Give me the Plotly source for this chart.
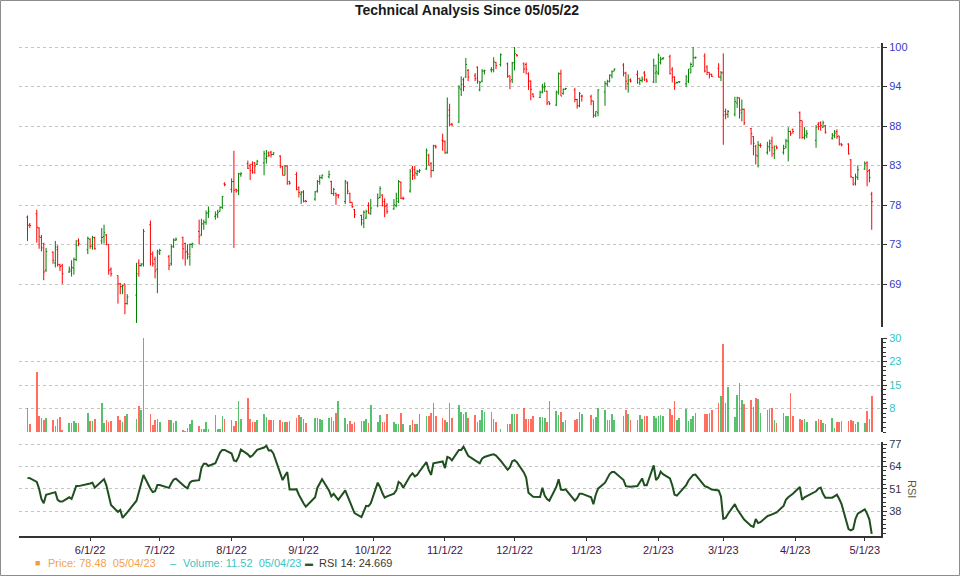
import math
import pandas as pd
import plotly.graph_objects as go

# ---------------- data ----------------
holidays = ['2022-05-30', '2022-06-20', '2022-07-04', '2022-09-05', '2022-11-24',
            '2022-12-26', '2023-01-02', '2023-01-16', '2023-02-20', '2023-04-07']
dates = [d for d in pd.bdate_range('2022-05-05', '2023-05-04')
         if d.strftime('%Y-%m-%d') not in holidays]

open_ = [
    76.6, 75.7, 77.0, 75.3, 74.2, 73.5, 70.5, 72.5, 71.3, 72.8, 71.1, 71.0, 70.3, 70.4, 70.7, 71.7, 73.8, 72.8,
    74.0, 73.2, 74.2, 73.8, 74.3, 74.5, 73.4, 70.6, 69.9, 69.0, 68.7, 69.0, 66.9, 67.8, 71.3, 71.0, 71.2, 75.7, 72.3, 71.7, 70.6,
    72.4, 72.0, 71.2, 73.2, 73.9, 74.2, 73.5, 72.6, 72.0, 73.4, 74.9, 74.5, 75.8, 76.0, 77.1, 76.7, 76.9, 77.3, 77.8, 80.7,
    80.0, 81.0, 80.0, 79.9, 81.9, 83.3, 83.0, 83.2, 83.4, 83.2, 83.4, 84.0, 84.7, 84.8, 84.5, 84.3, 82.9, 81.8, 83.0, 81.0, 81.9, 80.2, 79.4,
    79.7, 78.6, 78.8, 79.8, 81.0, 81.5, 81.6, 81.0, 79.5, 79.5, 79.3, 78.5, 80.8, 79.5, 78.4, 77.5, 76.8, 75.9, 76.5, 78.0, 77.0,
    78.0, 79.0, 79.3, 78.5, 78.0, 77.6, 78.0, 78.5, 80.9, 78.9, 79.8, 82.7, 82.5, 82.0, 82.3, 82.6, 84.4, 83.3, 82.4, 85.6, 86.4,
    86.2, 84.8, 90.6, 88.6, 88.9, 93.6, 95.0, 95.4, 96.4, 95.6, 96.9, 93.5, 94.8, 96.3, 96.5, 96.5, 97.6, 97.3, 97.4, 95.6, 95.0,
    97.6, 98.8, 97.4, 97.3, 95.9, 94.8, 92.9, 92.4, 93.2, 93.9, 93.3, 91.8, 91.3, 93.1, 95.9, 93.0, 93.6, 93.5, 92.1, 91.2, 92.6,
    92.5, 91.9, 89.9, 90.2, 93.2, 94.4, 94.8, 95.6, 96.3, 97.2, 96.0, 94.4, 95.0, 95.8, 94.6, 94.9, 96.0, 95.0, 94.7, 96.0,
    96.0, 97.6, 98.2, 98.5, 96.5, 95.4, 94.6, 94.7, 94.4, 94.8, 96.0, 97.0, 98.3, 98.6, 96.9, 96.1, 95.8, 96.7, 95.4,
    96.0, 90.4, 90.0, 90.0, 91.6, 92.3, 90.2, 90.7, 88.0, 86.9, 85.6, 84.3, 85.7, 84.8, 85.5, 86.3, 84.6, 85.6, 84.8, 85.5, 86.3, 87.6, 87.9,
    90.2, 89.1, 86.8, 87.0, 86.4, 88.6, 88.8, 88.2, 88.4, 86.7, 87.0, 87.6, 87.0, 85.9, 85.9, 83.8, 81.5, 80.8, 81.5,
    82.6, 83.4, 82.4, 79.4,
]
high = [
    76.8, 75.9, 77.5, 75.4, 74.5, 73.6, 73.0, 72.6, 73.8, 73.3, 71.2, 71.2, 70.9, 71.6, 71.9, 73.9, 74.1, 74.3,
    74.1, 74.4, 74.3, 75.3, 75.7, 74.6, 73.4, 70.8, 69.9, 69.1, 68.9, 69.0, 67.9, 71.3, 71.7, 71.3, 75.2, 76.2, 72.6, 72.0, 72.8,
    72.9, 72.2, 73.4, 74.1, 74.2, 74.3, 73.6, 73.4, 73.5, 73.6, 76.3, 76.4, 76.3, 77.4, 77.9, 77.3, 77.5, 77.9, 79.2, 80.9,
    81.4, 85.0, 80.1, 82.1, 82.2, 83.7, 83.3, 83.6, 83.5, 83.8, 85.0, 85.1, 84.9, 85.0, 84.8, 84.4, 83.0, 83.1, 83.1, 81.1, 82.2, 80.4, 79.8,
    79.9, 78.7, 79.8, 81.2, 81.8, 81.9, 82.4, 81.1, 80.2, 79.6, 79.4, 81.2, 81.0, 79.6, 78.4, 77.6, 76.9, 77.4, 77.5, 78.4, 78.8,
    79.5, 80.4, 79.4, 78.9, 78.3, 78.8, 79.6, 81.2, 81.0, 79.1, 82.6, 83.0, 83.0, 82.5, 82.6, 85.3, 84.6, 83.5, 85.8, 85.8, 87.3,
    86.4, 92.4, 91.5, 88.8, 94.2, 95.5, 95.3, 98.3, 96.6, 96.0, 97.0, 94.8, 96.6, 96.5, 96.9, 98.4, 97.7, 99.0, 97.6, 95.6, 97.7,
    100.0, 98.9, 97.6, 97.6, 96.1, 94.9, 93.0, 93.4, 94.4, 94.6, 93.4, 91.8, 93.4, 96.1, 96.5, 93.7, 93.8, 93.8, 92.2, 93.2, 92.8,
    92.8, 91.9, 90.4, 93.6, 94.8, 95.0, 95.8, 96.4, 96.7, 97.5, 96.2, 95.8, 95.2, 96.4, 95.3, 95.5, 96.3, 95.2, 98.2, 97.3,
    99.0, 98.5, 98.4, 98.8, 96.9, 95.5, 94.7, 94.8, 95.7, 96.6, 97.6, 100.0, 98.5, 99.0, 97.2, 96.1, 95.9, 97.5, 96.3,
    99.0, 90.8, 90.6, 92.5, 92.5, 92.4, 92.1, 90.8, 88.1, 87.0, 85.8, 86.3, 86.0, 86.2, 86.5, 86.9, 85.7, 85.7, 85.8, 86.6, 88.2, 87.7, 88.0,
    90.4, 89.1, 88.2, 87.8, 88.5, 88.9, 89.0, 89.1, 88.5, 87.4, 87.8, 87.9, 87.0, 86.0, 86.0, 83.9, 81.6, 82.0, 83.1,
    83.6, 83.6, 82.6, 79.7,
]
low = [
    73.8, 75.3, 73.6, 72.9, 72.6, 69.4, 70.3, 71.2, 70.8, 70.9, 70.4, 69.0, 70.2, 69.8, 70.0, 71.5, 73.2, 72.3,
    72.9, 72.8, 72.8, 73.4, 73.5, 73.3, 70.0, 69.8, 66.9, 67.9, 67.9, 65.8, 66.8, 64.9, 69.8, 70.9, 70.9, 71.0, 70.9, 69.6, 68.0,
    72.2, 70.5, 71.0, 73.0, 73.8, 71.7, 71.0, 71.7, 71.0, 73.0, 73.4, 74.4, 75.1, 75.7, 76.5, 76.3, 76.5, 77.3, 77.6, 80.4,
    79.6, 73.0, 79.6, 79.3, 81.6, 82.6, 81.2, 82.0, 82.0, 83.1, 81.8, 83.3, 84.2, 84.1, 84.4, 82.7, 81.8, 81.8, 80.6, 80.6, 79.9, 79.0, 78.2,
    78.4, 78.4, 78.6, 79.6, 80.6, 81.3, 81.4, 79.4, 79.2, 78.1, 78.9, 78.2, 79.4, 78.3, 77.7, 76.5, 75.6, 75.3, 76.4, 77.0, 76.9,
    77.8, 78.9, 77.9, 76.6, 77.0, 77.5, 77.8, 78.3, 78.8, 78.7, 79.6, 81.2, 81.3, 81.7, 82.1, 82.5, 83.1, 81.5, 82.3, 85.3, 85.0,
    84.6, 84.6, 88.3, 88.4, 88.8, 92.6, 93.3, 95.3, 94.8, 94.8, 94.4, 93.3, 94.6, 95.8, 96.1, 96.1, 96.6, 97.0, 95.3, 93.6, 94.5,
    96.4, 98.5, 96.0, 95.8, 93.5, 92.0, 92.4, 92.3, 93.0, 93.2, 91.3, 91.3, 91.2, 92.8, 92.6, 92.8, 93.5, 91.7, 90.8, 91.0, 91.8,
    91.3, 89.5, 89.6, 89.7, 91.2, 94.0, 94.6, 95.2, 96.3, 95.5, 93.5, 93.1, 94.6, 94.4, 94.2, 94.6, 94.8, 94.6, 94.5, 94.5,
    95.7, 97.3, 98.0, 95.8, 94.6, 93.5, 94.4, 94.5, 93.9, 94.5, 96.0, 97.0, 98.2, 96.1, 95.7, 95.2, 95.4, 95.3, 94.8,
    85.8, 89.3, 89.5, 89.7, 90.9, 89.4, 89.0, 88.5, 85.8, 84.4, 83.2, 82.8, 85.4, 84.5, 84.9, 84.2, 83.9, 85.2, 84.5, 85.3, 83.6, 87.0, 87.3,
    86.6, 86.6, 86.5, 86.7, 85.4, 87.8, 87.7, 88.1, 87.3, 86.5, 86.7, 86.6, 85.7, 85.6, 84.5, 81.5, 80.5, 80.5, 81.2,
    82.5, 80.4, 80.9, 75.1,
]
close = [
    75.6, 75.6, 75.4, 74.3, 73.0, 70.3, 72.6, 71.6, 73.1, 71.1, 70.9, 70.1, 70.6, 70.8, 71.7, 73.3, 73.5, 74.1,
    73.2, 74.2, 72.9, 74.2, 74.8, 73.4, 70.5, 70.1, 69.0, 68.7, 68.8, 66.9, 67.6, 70.1, 71.0, 71.1, 74.9, 72.3, 71.2, 70.4, 72.6,
    72.7, 71.0, 73.1, 73.9, 74.0, 72.9, 72.5, 72.3, 73.4, 73.5, 74.3, 75.8, 76.0, 77.1, 77.3, 76.9, 77.2, 77.8, 79.1, 80.6,
    81.0, 79.9, 79.8, 82.0, 82.0, 82.7, 82.4, 82.2, 83.0, 83.6, 84.6, 84.3, 84.4, 84.5, 84.7, 83.0, 81.8, 83.0, 80.7, 80.8, 80.0, 79.6, 79.6,
    78.5, 78.5, 79.7, 81.0, 81.5, 81.8, 81.9, 79.5, 80.0, 79.3, 79.3, 81.0, 79.8, 78.4, 77.9, 76.9, 76.3, 77.2, 77.3, 77.1, 77.7,
    78.9, 80.1, 78.0, 77.9, 77.3, 78.1, 78.9, 81.0, 78.9, 78.9, 82.3, 81.8, 82.1, 82.3, 82.4, 85.0, 83.1, 82.4, 85.7, 85.5, 86.3,
    84.7, 89.8, 88.6, 88.5, 93.8, 94.3, 94.0, 97.3, 95.4, 95.2, 94.8, 94.6, 96.3, 96.4, 96.5, 97.7, 97.1, 98.8, 95.5, 94.8, 97.5,
    99.0, 98.7, 96.6, 96.6, 94.8, 93.6, 92.5, 93.1, 93.8, 94.0, 91.6, 91.5, 93.2, 95.9, 92.6, 93.6, 93.7, 92.1, 91.2, 93.0, 92.6,
    91.9, 89.8, 90.4, 93.5, 94.4, 94.7, 95.7, 96.2, 96.6, 96.0, 94.8, 94.8, 94.8, 95.2, 94.9, 95.1, 95.7, 94.8, 97.1, 96.2,
    98.7, 98.1, 98.3, 95.9, 95.4, 94.4, 94.6, 94.7, 95.4, 96.6, 97.3, 98.4, 98.4, 96.3, 96.1, 95.8, 95.5, 95.4, 96.1,
    89.9, 90.0, 90.4, 91.8, 92.4, 90.6, 90.7, 88.8, 87.3, 86.0, 84.4, 85.8, 85.7, 85.6, 86.0, 85.4, 85.1, 85.4, 85.3, 86.3, 87.6, 87.3, 87.6,
    89.1, 86.8, 87.1, 87.3, 88.2, 88.3, 88.4, 88.8, 87.5, 87.1, 87.4, 86.9, 85.9, 85.8, 84.6, 81.6, 80.6, 81.6, 82.5,
    83.3, 82.3, 81.5, 78.48,
]
volume = [
    7.8, 2.5, 19.1, 5.1, 4.6, 3.8, 4.6, 3.8, 1.9, 4.1, 4.8, 0.5, 3.0, 3.0, 3.5, 3.0, 3.0, 6.0,
    3.5, 3.5, 4.3, 9.4, 3.0, 3.9, 3.3, 3.5, 5.1, 3.8, 3.3, 5.1, 5.7, 4.1, 8.3, 7.0, 30.0, 5.7, 2.3, 3.8, 4.1,
    3.3, 3.8, 3.9, 3.0, 3.5, 0.5, 0.3, 1.4, 2.5, 3.9, 1.9, 1.1, 1.1, 3.3, 1.1, 5.5, 0.9, 0.9, 5.1, 4.1,
    3.8, 1.9, 3.5, 9.8, 4.1, 11.0, 4.1, 3.3, 3.3, 3.8, 5.7, 4.8, 3.8, 3.8, 3.8, 3.8, 3.3, 3.3, 3.3, 3.5, 4.6, 5.5, 4.8,
    4.1, 3.0, 4.6, 4.6, 4.3, 3.8, 4.6, 4.8, 3.5, 6.0, 9.8, 4.4, 2.7, 3.5, 2.7, 3.3, 3.5, 3.5, 4.1, 3.0, 8.6,
    3.3, 5.5, 3.3, 3.3, 5.7, 3.2, 2.7, 2.7, 6.0, 2.7, 2.3, 3.8, 2.7, 2.5, 5.7, 5.1, 5.1, 6.0, 9.1, 5.1, 4.4,
    3.8, 3.3, 9.4, 4.6, 8.6, 6.5, 5.7, 6.5, 4.6, 5.5, 3.3, 3.9, 7.0, 6.4, 6.5, 4.1, 3.3, 1.1, 2.5, 2.7, 5.8,
    5.6, 5.6, 7.8, 4.1, 4.1, 4.1, 5.1, 4.8, 4.8, 4.6, 3.3, 9.8, 6.6, 5.3, 6.5, 3.3, 3.8, 3.8, 4.1, 6.5, 5.7,
    5.5, 4.1, 4.8, 7.6, 7.0, 3.8, 3.8, 5.8, 3.8, 5.1, 7.0, 5.7, 3.8, 3.8, 5.4, 4.1, 5.1, 5.1, 5.2, 4.6,
    5.1, 5.4, 5.1, 7.3, 5.4, 9.8, 3.8, 4.6, 7.3, 3.5, 4.1, 5.1, 6.2, 5.7, 5.9, 6.0, 7.0, 9.1, 11.6,
    28.0, 9.1, 14.5, 4.8, 11.9, 15.5, 10.3, 9.0, 10.2, 8.0, 10.8, 10.5, 6.0, 7.0, 7.3, 7.8, 3.8, 3.0, 6.0, 5.1, 5.1, 12.3, 5.1,
    4.1, 3.8, 4.1, 3.3, 3.5, 4.1, 3.9, 3.0, 2.7, 4.4, 1.4, 3.3, 3.3, 3.5, 3.5, 3.8, 3.5, 2.7, 3.3,
    3.0, 6.7, 4.2, 11.52,
]
rsi = [
    57.3, 57.1, 55.0, 51.0, 45.0, 42.5, 47.5, 48.5, 49.0, 44.5, 43.5, 43.5, 46.0, 45.0, 49.0, 52.5, 52.5, 53.5,
    54.0, 54.5, 51.6, 55.4, 56.5, 53.0, 46.5, 41.5, 37.5, 38.6, 34.0, 35.5, 37.2, 44.0, 49.5, 55.0, 59.0, 51.0, 49.0, 49.5, 53.1,
    53.1, 51.5, 54.2, 56.3, 56.8, 52.8, 52.0, 51.2, 54.5, 55.5, 56.0, 63.0, 65.5, 65.5, 64.2, 65.8, 69.0, 72.0, 73.6, 73.6,
    71.5, 67.5, 67.0, 69.5, 73.8, 71.0, 69.5, 70.3, 72.0, 73.6, 75.0, 76.0, 73.3, 73.4, 71.5, 59.0, 56.0, 58.5, 60.7, 50.5, 50.6, 47.5, 44.5,
    42.5, 40.5, 46.0, 51.6, 54.0, 56.5, 50.0, 46.5, 48.0, 46.5, 44.5, 50.0, 46.5, 43.0, 39.5, 36.8, 34.5, 38.0, 41.0, 40.8, 42.5,
    54.5, 52.0, 48.5, 45.8, 46.5, 48.1, 50.0, 55.0, 54.0, 51.5, 58.5, 60.0, 58.2, 59.0, 61.0, 66.5, 62.0, 59.0, 65.8, 66.0, 66.9,
    63.0, 69.5, 69.0, 67.5, 73.6, 73.6, 75.5, 72.5, 70.2, 67.5, 66.5, 65.8, 68.5, 69.5, 70.8, 71.0, 70.3, 67.3, 62.0, 63.5, 67.0,
    67.6, 66.5, 60.5, 57.5, 48.7, 47.5, 46.3, 46.2, 51.6, 47.0, 45.0, 44.0, 52.0, 56.5, 50.5, 50.3, 50.6, 44.0, 45.5, 48.1, 48.1,
    46.0, 42.0, 47.5, 51.0, 54.5, 57.0, 59.5, 60.7, 60.7, 56.0, 52.5, 52.3, 52.1, 52.5, 55.0, 57.0, 53.0, 53.0, 64.6, 56.0,
    57.5, 61.0, 59.5, 57.0, 53.0, 47.5, 47.0, 48.5, 53.0, 55.8, 57.5, 59.0, 59.2, 52.5, 52.0, 51.3, 50.5, 50.0, 46.5,
    33.5, 34.0, 36.3, 42.0, 39.0, 37.0, 35.0, 33.0, 29.3, 28.7, 33.4, 31.0, 31.5, 35.0, 35.5, 36.0, 36.6, 37.2, 41.0, 44.5, 46.0, 47.0, 48.1,
    52.0, 44.5, 46.0, 46.8, 49.5, 51.0, 51.6, 48.0, 45.8, 45.8, 46.5, 47.5, 45.0, 42.0, 27.5, 26.7, 27.5, 33.5, 36.5,
    39.0, 36.5, 33.0, 24.669,
]

price_ticks = [100 * 0.94 ** k for k in range(7)]
price_labels = ['100', '94', '88', '83', '78', '73', '69']
vol_ticks = [7.5, 15, 22.5, 30]
vol_labels = ['8', '15', '23', '30']
rsi_ticks = [38, 51, 64, 77]
rsi_labels = ['38', '51', '64', '77']

n = len(dates)
for arr in (open_, high, low, close, volume, rsi):
    assert len(arr) == n, (len(arr), n)

# ---------------- figure ----------------
W, H = 960, 576
ML, MR, MT, MB = 19, 79, 43, 40
PW, PH = W - ML - MR, H - MT - MB


def px(X):
    return (X - ML) / PW


def py(Y):
    return (H - MB - Y) / PH


FONT = 'Liberation Sans, Arial, sans-serif'
GRID = '#c4c4c4'
AXC = '#333333'

fig = go.Figure()
fig.add_trace(go.Ohlc(
    x=dates, open=open_, high=high, low=low, close=close,
    increasing=dict(line=dict(color='#008000', width=1)),
    decreasing=dict(line=dict(color='#ff0000', width=1)),
    tickwidth=0.5, xaxis='x', yaxis='y', hoverinfo='skip', showlegend=False,
))
vcolors = ['#2db34a' if c >= o else '#ff4b36' for o, c in zip(open_, close)]
fig.add_trace(go.Bar(
    x=dates, y=volume, marker=dict(color=vcolors, line=dict(width=0)), opacity=0.8,
    width=0.7 * 86400000, xaxis='x2', yaxis='y2', hoverinfo='skip', showlegend=False,
))
fig.add_trace(go.Scatter(
    x=dates, y=rsi, mode='lines', line=dict(color='#1f4f1f', width=2),
    xaxis='x3', yaxis='y3', hoverinfo='skip', showlegend=False,
))

xr = ['2022-05-01 08:00', '2023-05-08 00:00']
common_y = dict(side='right', showline=True, linecolor=AXC, linewidth=2, ticks='outside',
                ticklen=4, tickcolor=AXC, tickwidth=1, showgrid=True, gridcolor=GRID,
                griddash='dot', gridwidth=1, zeroline=False, fixedrange=True, automargin=False)

p_lo = 100 * 0.94 ** ((327 - 47) / 39.5)
p_hi = 100 * 0.94 ** ((43 - 47) / 39.5)

fig.update_layout(
    width=W, height=H, margin=dict(l=ML, r=MR, t=MT, b=MB, autoexpand=False),
    paper_bgcolor='white', plot_bgcolor='white',
    font=dict(family=FONT, size=11, color='#333333'),
    title=dict(text='<b>Technical Analysis Since 05/05/22</b>', x=467 / W, xref='container',
               xanchor='center', y=1 - 10 / H, yref='container', yanchor='middle',
               font=dict(family=FONT, size=14, color='#1a1a1a')),
    bargap=0,
    xaxis=dict(domain=[0, 1], anchor='y', range=xr, type='date', showticklabels=False,
               showgrid=False, zeroline=False, ticks='', rangeslider=dict(visible=False),
               matches='x3', automargin=False),
    xaxis2=dict(domain=[0, 1], anchor='y2', range=xr, type='date', showticklabels=False,
                showgrid=False, zeroline=False, ticks='', matches='x3', automargin=False),
    xaxis3=dict(domain=[0, 1], anchor='y3', range=xr, type='date', showgrid=False,
                zeroline=False, showline=True, linecolor=AXC, linewidth=2, automargin=False,
                ticks='outside', ticklen=3, tickcolor=AXC, dtick='M1', tick0='2022-06-01',
                tickformat='%-m/%-d/%y', tickfont=dict(family=FONT, size=11, color='#3f1447')),
    yaxis=dict(domain=[py(327), 1], type='log',
               range=[math.log10(p_lo), math.log10(p_hi)],
               tickvals=price_ticks, ticktext=price_labels,
               tickfont=dict(family=FONT, size=11, color='#3a3ac8'), **common_y),
    yaxis2=dict(domain=[py(432), py(338)], range=[0, 30], tickvals=vol_ticks, ticktext=vol_labels,
                tickfont=dict(family=FONT, size=11, color='#33c4c4'),
                minor=dict(ticks='outside', ticklen=3, tickcolor=AXC, showgrid=False,
                           tickvals=[i * 1.5 for i in range(21)]),
                **common_y),
    yaxis3=dict(domain=[0, py(442)], range=[23.45, 78.2], tickvals=rsi_ticks, ticktext=rsi_labels,
                tickfont=dict(family=FONT, size=11, color='#333348'),
                minor=dict(ticks='outside', ticklen=3, tickcolor=AXC, showgrid=False,
                           tickvals=[25 + i * 2.6 for i in range(21)]),
                **common_y),
)

# RSI axis title
fig.add_annotation(text='RSI', x=px(912), y=py(489), xref='paper', yref='paper',
                   textangle=90, showarrow=False, xanchor='center', yanchor='middle',
                   font=dict(family=FONT, size=11, color='#5c5c3a'))

# legend line at the bottom
leg_y = py(563)
fig.add_annotation(text='■', x=px(33), y=leg_y, xref='paper', yref='paper', showarrow=False,
                   xanchor='left', yanchor='middle', font=dict(family=FONT, size=9, color='#f39b3c'))
fig.add_annotation(text='Price: 78.48  05/04/23', x=px(46), y=leg_y, xref='paper', yref='paper',
                   showarrow=False, xanchor='left', yanchor='middle',
                   font=dict(family=FONT, size=11, color='#f4a24a'))
fig.add_annotation(text='–', x=px(168), y=leg_y, xref='paper', yref='paper', showarrow=False,
                   xanchor='left', yanchor='middle', font=dict(family=FONT, size=11, color='#3cc4c4'))
fig.add_annotation(text='Volume: 11.52  05/04/23', x=px(181), y=leg_y, xref='paper', yref='paper',
                   showarrow=False, xanchor='left', yanchor='middle',
                   font=dict(family=FONT, size=11, color='#3cc4c4'))
fig.add_annotation(text='▬', x=px(303), y=leg_y, xref='paper', yref='paper', showarrow=False,
                   xanchor='left', yanchor='middle', font=dict(family=FONT, size=8, color='#2a5a2a'))
fig.add_annotation(text='RSI 14: 24.669', x=px(317), y=leg_y, xref='paper', yref='paper',
                   showarrow=False, xanchor='left', yanchor='middle',
                   font=dict(family=FONT, size=11, color='#3a3a30'))

# outer frame
fig.add_shape(type='rect', xref='paper', yref='paper',
              x0=px(0.5), x1=px(W - 0.5), y0=py(H - 0.5), y1=py(0.5),
              line=dict(color='#8c8c8c', width=1), fillcolor='rgba(0,0,0,0)', layer='above')

fig.write_html('out.html', config={'displayModeBar': False, 'staticPlot': True},
               post_script="document.body.style.margin='0';document.body.style.overflow='hidden';")
